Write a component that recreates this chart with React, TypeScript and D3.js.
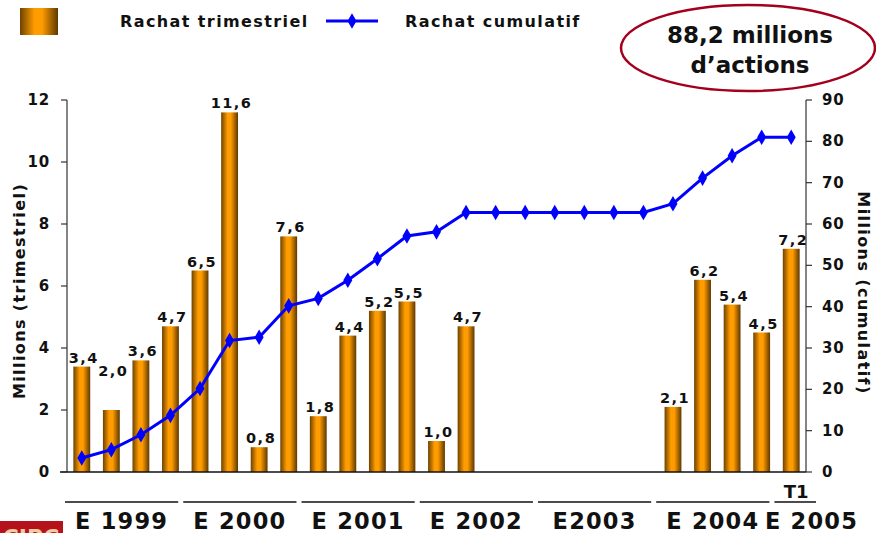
import React from "react";
import * as d3 from "d3";

// quarterly buyback (millions of shares), 1999 T1 .. 2005 T1
const quarters = [
  "1999T1", "1999T2", "1999T3", "1999T4",
  "2000T1", "2000T2", "2000T3", "2000T4",
  "2001T1", "2001T2", "2001T3", "2001T4",
  "2002T1", "2002T2", "2002T3", "2002T4",
  "2003T1", "2003T2", "2003T3", "2003T4",
  "2004T1", "2004T2", "2004T3", "2004T4",
  "2005T1",
];
const quarterly = [
  3.4, 2.0, 3.6, 4.7,
  6.5, 11.6, 0.8, 7.6,
  1.8, 4.4, 5.2, 5.5,
  1.0, 4.7, 0, 0,
  0, 0, 0, 0,
  2.1, 6.2, 5.4, 4.5,
  7.2,
];
const cumulative = [
  3.4, 5.4, 9.0, 13.7,
  20.2, 31.8, 32.6, 40.2,
  42.0, 46.4, 51.6, 57.1,
  58.1, 62.8, 62.8, 62.8,
  62.8, 62.8, 62.8, 62.8,
  64.9, 71.1, 76.5, 81.0,
  81.0,
];
const years = ["1999", "2000", "2001", "2002", "2003", "2004", "2005"];
const yearLabels = ["E 1999", "E 2000", "E 2001", "E 2002", "E2003", "E 2004", "E 2005"];
const leftTicks = [0, 2, 4, 6, 8, 10, 12];
const rightTicks = [0, 10, 20, 30, 40, 50, 60, 70, 80, 90];

const W = 876;
const H = 533;
const FONT = "'DejaVu Sans', Verdana, sans-serif";
const margin = { top: 100, right: 70, bottom: 61, left: 67 };

const fmt = (v: number) => v.toFixed(1).replace(".", ",");

const App = () => {
  const x0 = margin.left;
  const x1 = W - margin.right;
  const yBottom = H - margin.bottom;

  const x = d3.scaleBand().domain(quarters).range([x0, x1]).paddingInner(0.43).paddingOuter(0.215);
  const step = x.step();
  const yL = d3.scaleLinear().domain([0, 12]).range([yBottom, margin.top]);
  const yR = d3.scaleLinear().domain([0, 90]).range([yBottom, margin.top]);

  const cx = (q: string) => (x(q) as number) + x.bandwidth() / 2;

  const line = d3
    .line<number>()
    .x((_, i) => cx(quarters[i]))
    .y((d) => yR(d));

  const diamond = d3.symbol().type(d3.symbolDiamond).size(70)();

  const groups = years.map((y, i) => {
    const qs = quarters.filter((q) => q.startsWith(y));
    const start = (x(qs[0]) as number) - (step - x.bandwidth()) / 2;
    const end = start + qs.length * step;
    const last = i === years.length - 1;
    const a = start - 2;
    const b = last ? end + 10 : end - 7;
    return { label: yearLabels[i], a, b, last };
  });

  return (
    <svg
      width={W}
      height={H}
      style={{ position: "fixed", left: 0, top: 0, background: "#fff" }}
      fontFamily={FONT}
      fontWeight="bold"
    >
      <defs>
        <linearGradient id="barGrad" x1="0" x2="1" y1="0" y2="0">
          <stop offset="0" stopColor="#6e4200" />
          <stop offset="0.38" stopColor="#ff9c00" />
          <stop offset="0.58" stopColor="#ff9c00" />
          <stop offset="1" stopColor="#5e3800" />
        </linearGradient>
      </defs>

      {/* legend */}
      <rect x={20} y={8} width={38} height={27} fill="url(#barGrad)" />
      <text x={120} y={27} fontSize={16} letterSpacing={1.4} fill="#111">Rachat trimestriel</text>
      <line x1={326} x2={378} y1={21} y2={21} stroke="#0000ff" strokeWidth={3} />
      <path d={diamond} transform="translate(352,21)" fill="#0000ff" />
      <text x={405} y={27} fontSize={16} letterSpacing={1.4} fill="#111">Rachat cumulatif</text>

      {/* callout */}
      <ellipse cx={748} cy={48} rx={127} ry={43} fill="none" stroke="#a3001e" strokeWidth={2.5} />
      <text x={750} y={43} fontSize={23} textAnchor="middle" fill="#111">88,2 millions</text>
      <text x={750} y={73} fontSize={23} textAnchor="middle" fill="#111">d’actions</text>

      {/* bars */}
      {quarters.map((q, i) =>
        quarterly[i] > 0 ? (
          <rect
            key={q}
            x={x(q)}
            y={yL(quarterly[i])}
            width={x.bandwidth()}
            height={yBottom - yL(quarterly[i])}
            fill="url(#barGrad)"
          />
        ) : null
      )}

      {/* axes */}
      <line x1={x0} x2={x0} y1={margin.top} y2={yBottom} stroke="#333" strokeWidth={1.2} />
      <line x1={x1} x2={x1} y1={margin.top} y2={yBottom} stroke="#333" strokeWidth={1.2} />
      <line x1={60} x2={x1} y1={yBottom} y2={yBottom} stroke="#111" strokeWidth={1.5} />
      {leftTicks.map((t) => (
        <g key={t}>
          <line x1={x0 - 6} x2={x0} y1={yL(t)} y2={yL(t)} stroke="#333" strokeWidth={1.2} />
          <text x={x0 - 17} y={yL(t) + 5} fontSize={15} letterSpacing={0.8} textAnchor="end" fill="#111">{t}</text>
        </g>
      ))}
      {rightTicks.map((t) => (
        <g key={t}>
          <line x1={x1} x2={x1 + 6} y1={yR(t)} y2={yR(t)} stroke="#333" strokeWidth={1.2} />
          <text x={x1 + 16} y={yR(t) + 5} fontSize={15} letterSpacing={0.8} fill="#111">{t}</text>
        </g>
      ))}
      <text
        transform={`translate(25,${(margin.top + yBottom) / 2 + 5}) rotate(-90)`}
        fontSize={16}
        letterSpacing={1.4}
        textAnchor="middle"
        fill="#111"
      >
        Millions (trimestriel)
      </text>
      <text
        transform={`translate(858,${(margin.top + yBottom) / 2 + 7}) rotate(90)`}
        fontSize={16}
        letterSpacing={1.4}
        textAnchor="middle"
        fill="#111"
      >
        Millions (cumulatif)
      </text>

      {/* bar value labels */}
      {quarters.map((q, i) =>
        quarterly[i] > 0 ? (
          <text
            key={q}
            x={cx(q) + 2}
            y={yL(quarterly[i]) - (i === 1 ? 34 : 4)}
            fontSize={14.5}
            letterSpacing={1.5}
            textAnchor="middle"
            fill="#111"
          >
            {fmt(quarterly[i])}
          </text>
        ) : null
      )}

      {/* cumulative line */}
      <path d={line(cumulative) ?? ""} fill="none" stroke="#0000ff" strokeWidth={3} />
      {cumulative.map((v, i) => (
        <path key={i} d={diamond} transform={`translate(${cx(quarters[i])},${yR(v)})`} fill="#0000ff" />
      ))}

      {/* year groups */}
      {groups.map((g) => (
        <g key={g.label}>
          <line x1={g.a} x2={g.b} y1={502} y2={502} stroke="#111" strokeWidth={1.5} />
          <text
            x={g.last ? W - 18 : (g.a + g.b) / 2}
            y={529}
            fontSize={22.5}
            letterSpacing={1.2}
            textAnchor={g.last ? "end" : "middle"}
            fill="#111"
          >
            {g.label}
          </text>
        </g>
      ))}
      <text x={cx(quarters[24]) + 5} y={498} fontSize={18} textAnchor="middle" fill="#111">T1</text>

      {/* logo corner */}
      <rect x={0} y={521} width={63} height={20} fill="#b5121b" />
      <text x={31} y={545} fontSize={22} textAnchor="middle" fill="#f3c9a0">CIPC</text>
    </svg>
  );
};

export default App;
